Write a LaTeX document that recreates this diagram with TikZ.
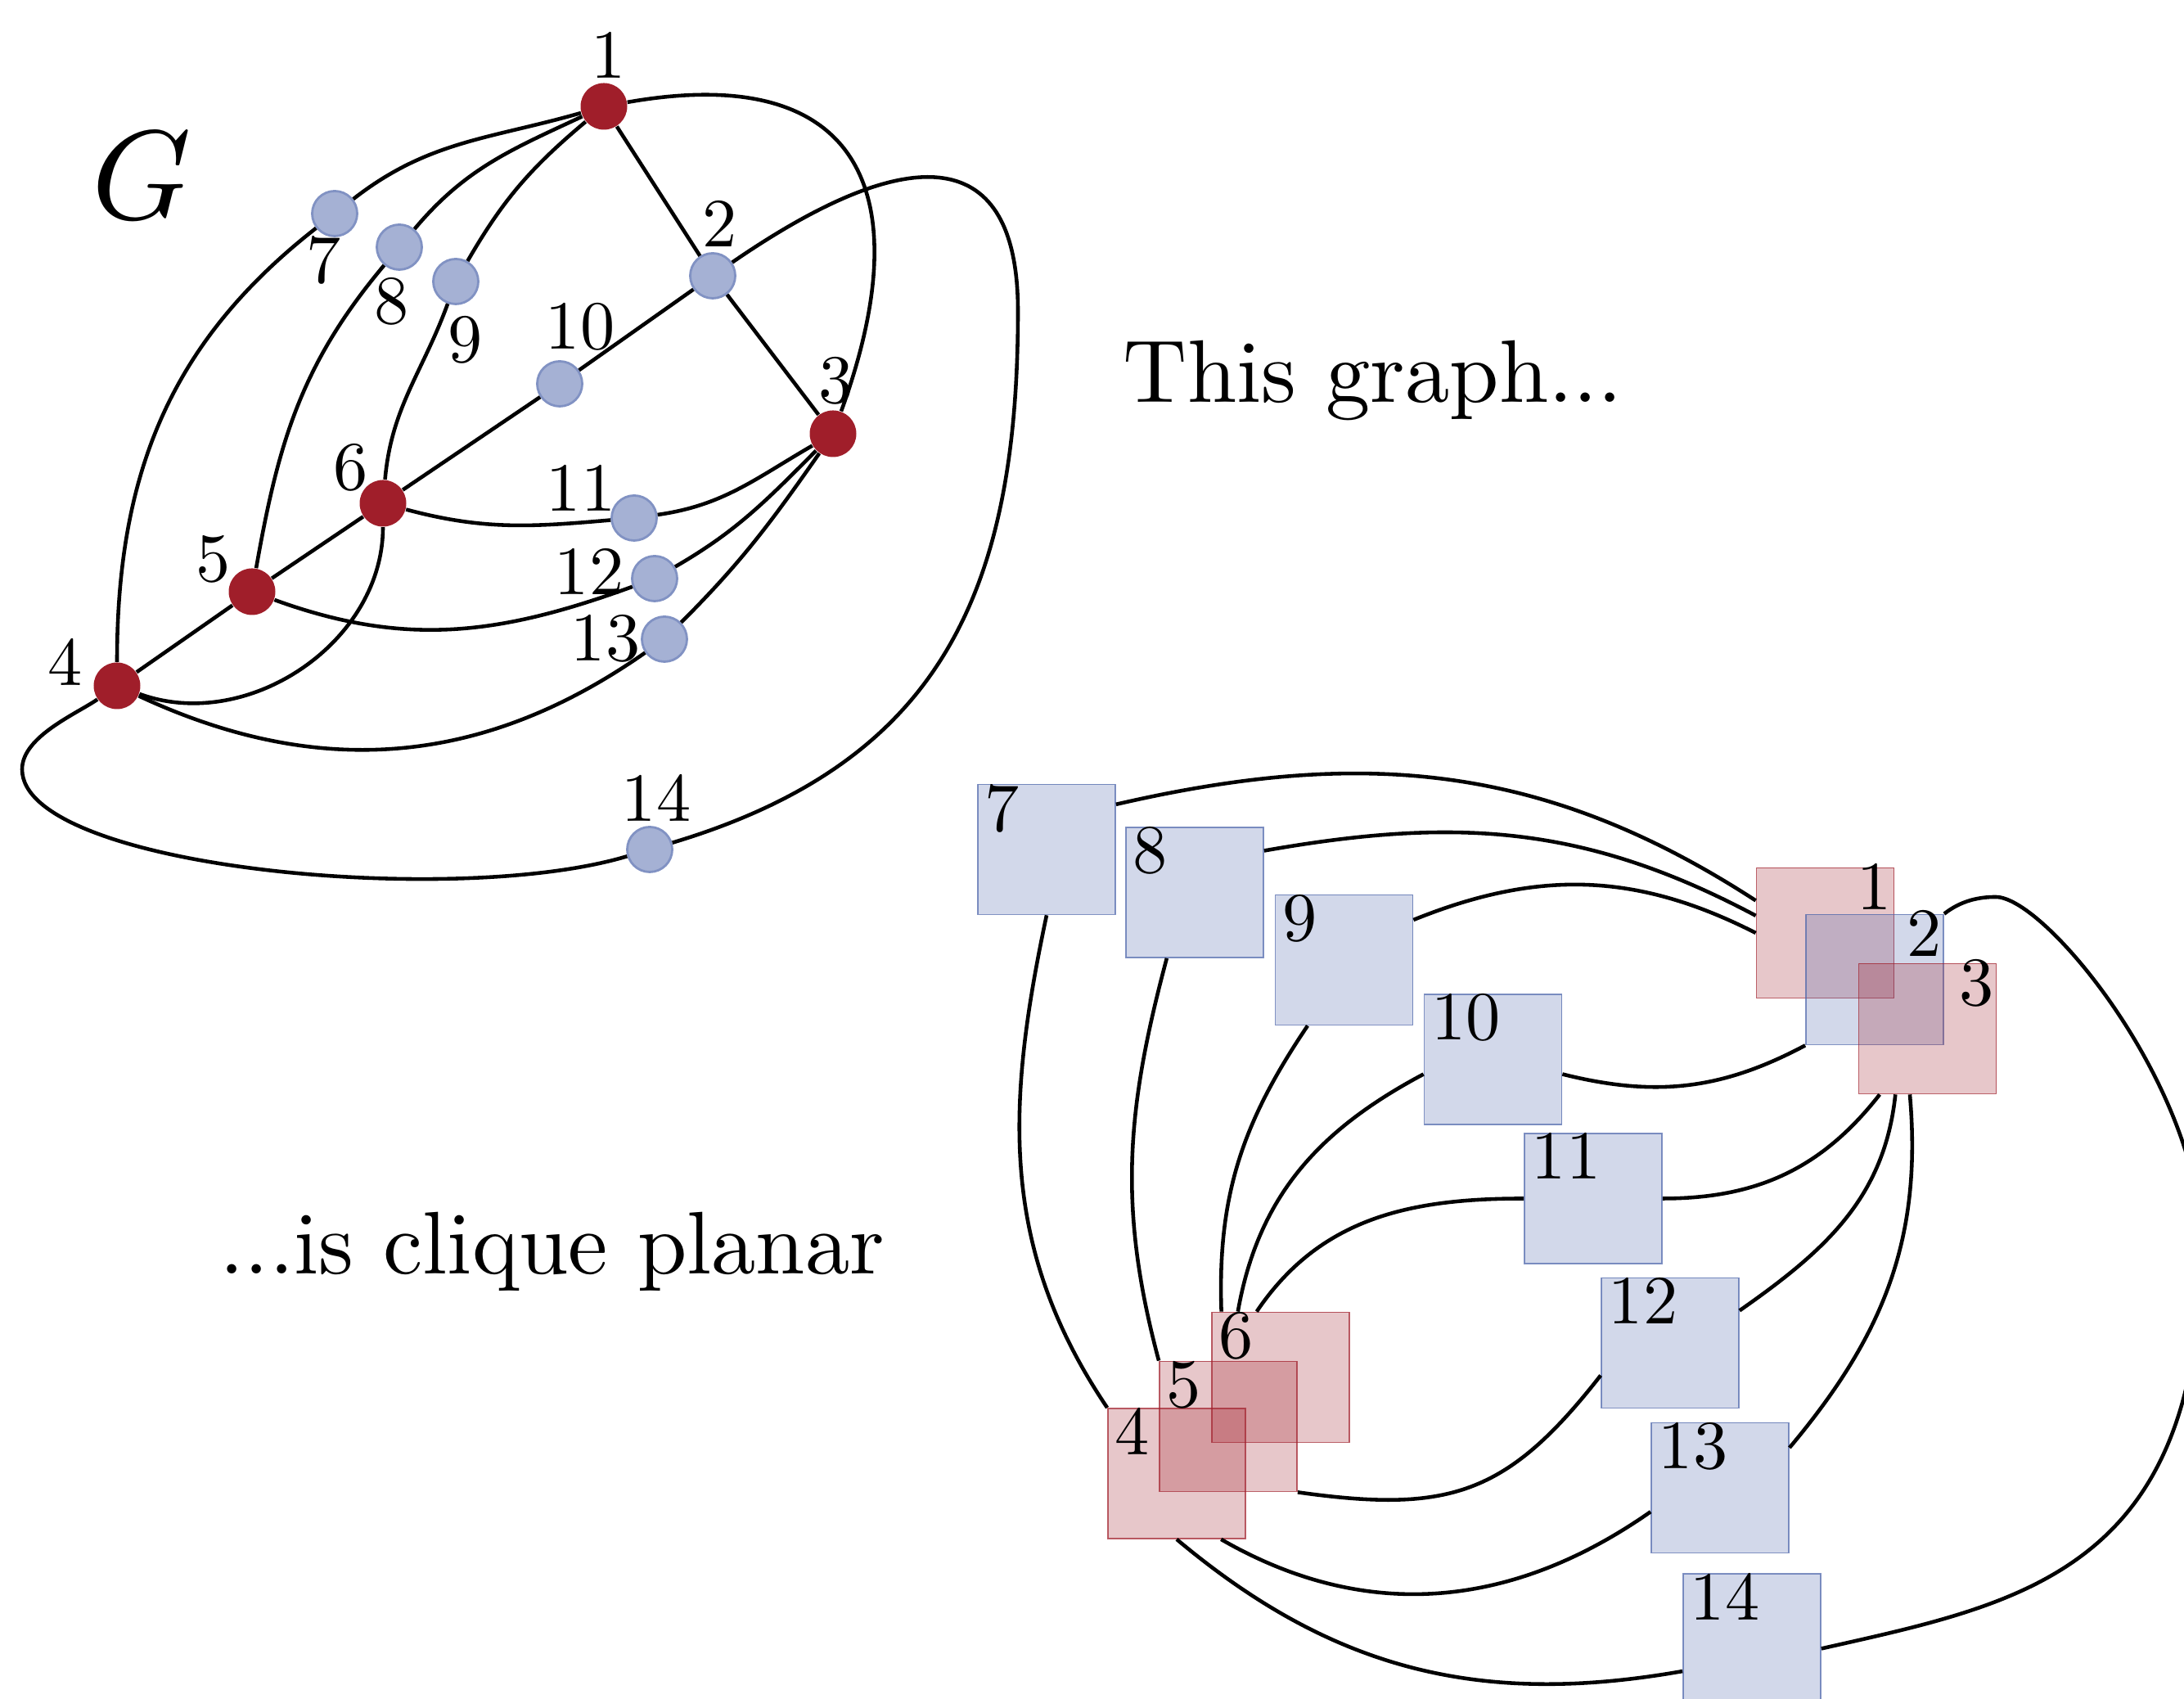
\documentclass[tikz,border=0pt]{standalone}
\usepackage{tikz}
\definecolor{vred}{RGB}{160,30,42}
\definecolor{vblue}{RGB}{75,100,170}
\newcommand{\lbltext}[1]{\scalebox{2.4}{#1}}

\begin{document}
\begin{tikzpicture}[
  redv/.style={circle, fill=vred, minimum size=0.57cm, inner sep=0pt},
  bluev/.style={circle, fill=vblue!50, draw=vblue!70, line width=0.8pt, minimum size=0.55cm, inner sep=0pt},
  redbox/.style={rectangle, fill=vred, fill opacity=0.25, draw=vred, draw opacity=0.7, line width=0.5pt, minimum width=1.68cm, minimum height=1.59cm, inner sep=0pt},
  bluebox/.style={rectangle, fill=vblue, fill opacity=0.25, draw=vblue, draw opacity=0.7, line width=0.5pt, minimum width=1.68cm, minimum height=1.59cm, inner sep=0pt},
  lbl/.style={inner sep=0pt},
  tl/.style={lbl, anchor=north west, xshift=0.09cm},
  tr/.style={lbl, anchor=north east, xshift=-0.03cm, yshift=0.05cm},
  link/.style={line width=1.3pt}
]
\useasboundingbox (0,0) rectangle (26.690,20.760);
\clip (0,0) rectangle (26.690,20.760);

\node[anchor=base west, inner sep=0pt] (gname) at (1.120,18.080) {\scalebox{4.4}{$G$}};
\node[anchor=base west, inner sep=0pt] (this) at (13.720,15.840) {\scalebox{3.09}{This graph...}};
\node[anchor=base west, inner sep=0pt] (isclq) at (2.680,5.190) {\scalebox{3.09}{...is clique planar}};

\node[redv] (v1) at (7.380,19.460) {};
\node[bluev] (v2) at (8.710,17.390) {};
\node[redv] (v3) at (10.180,15.460) {};
\node[redv] (v4) at (1.430,12.380) {};
\node[redv] (v5) at (3.080,13.530) {};
\node[redv] (v6) at (4.680,14.610) {};
\node[bluev] (v7) at (4.090,18.150) {};
\node[bluev] (v8) at (4.880,17.740) {};
\node[bluev] (v9) at (5.570,17.320) {};
\node[bluev] (v10) at (6.840,16.070) {};
\node[bluev] (v11) at (7.750,14.430) {};
\node[bluev] (v12) at (8.000,13.690) {};
\node[bluev] (v13) at (8.120,12.950) {};
\node[bluev] (v14) at (7.940,10.380) {};

\node[lbl] (l1) at (7.440,20.090) {\lbltext{1}};
\node[lbl] (l2) at (8.800,18.030) {\lbltext{2}};
\node[lbl] (l3) at (10.220,16.110) {\lbltext{3}};
\node[lbl] (l4) at (0.800,12.670) {\lbltext{4}};
\node[lbl] (l5) at (2.610,13.930) {\lbltext{5}};
\node[lbl] (l6) at (4.290,15.050) {\lbltext{6}};
\node[lbl] (l7) at (3.960,17.580) {\lbltext{7}};
\node[lbl] (l8) at (4.790,17.080) {\lbltext{8}};
\node[lbl] (l9) at (5.690,16.610) {\lbltext{9}};
\node[lbl] (l10) at (7.090,16.770) {\lbltext{10}};
\node[lbl] (l11) at (7.100,14.800) {\lbltext{11}};
\node[lbl] (l12) at (7.200,13.780) {\lbltext{12}};
\node[lbl] (l13) at (7.400,12.960) {\lbltext{13}};
\node[lbl] (l14) at (8.020,11.010) {\lbltext{14}};

\draw[link] (v1) -- (v2);
\draw[link] (v2) -- (v3);
\draw[link] (v4) -- (v5);
\draw[link] (v5) -- (v6);
\draw[link] (v6) -- (v10);
\draw[link] (v10) -- (v2);
\draw[link] (v1) to[out=196, in=38] (v7);
\draw[link] (v7) to[out=218, in=90] (v4);
\draw[link] (v1) to[out=205, in=50] (v8);
\draw[link] (v8) to[out=230, in=80] (v5);
\draw[link] (v1) to[out=220, in=60] (v9);
\draw[link] (v9) to[out=250, in=85] (v6);
\draw[link] (v1) to[out=10, in=70, looseness=1.6] (v3);
\draw[link] (v6) to[out=-15, in=185] (v11);
\draw[link] (v11) to[out=8, in=210] (v3);
\draw[link] (v5) to[out=-20, in=200] (v12);
\draw[link] (v12) to[out=30, in=225] (v3);
\draw[link] (v4) to[out=-25, in=215] (v13);
\draw[link] (v13) to[out=45, in=235] (v3);
\draw[link] (v6) to[out=270, in=-20] (v4);
\draw[link] (v2) .. controls (11.180,19.090) and (12.440,18.960) .. (12.440,16.960)
  .. controls (12.440,13.460) and (11.440,11.430) .. (v14)
  .. controls (5.540,9.660) and (0.270,10.160) .. (0.270,11.360)
  .. controls (0.270,11.760) and (0.940,12.040) .. (v4);

\node[redbox, label={[tr]north east:\lbltext{1}}] (b1) at (22.305,9.360) {};
\node[bluebox, label={[tr]north east:\lbltext{2}}] (b2) at (22.910,8.790) {};
\node[redbox, label={[tr]north east:\lbltext{3}}] (b3) at (23.555,8.190) {};
\node[redbox, label={[tl]north west:\lbltext{4}}] (b4) at (14.380,2.755) {};
\node[redbox, label={[tl]north west:\lbltext{5}}] (b5) at (15.010,3.330) {};
\node[redbox, label={[tl]north west:\lbltext{6}}] (b6) at (15.650,3.930) {};
\node[bluebox, label={[tl]north west:\lbltext{7}}] (b7) at (12.790,10.380) {};
\node[bluebox, label={[tl]north west:\lbltext{8}}] (b8) at (14.600,9.855) {};
\node[bluebox, label={[tl]north west:\lbltext{9}}] (b9) at (16.425,9.030) {};
\node[bluebox, label={[tl]north west:\lbltext{10}}] (b10) at (18.245,7.815) {};
\node[bluebox, label={[tl]north west:\lbltext{11}}] (b11) at (19.470,6.115) {};
\node[bluebox, label={[tl]north west:\lbltext{12}}] (b12) at (20.410,4.350) {};
\node[bluebox, label={[tl]north west:\lbltext{13}}] (b13) at (21.020,2.580) {};
\node[bluebox, label={[tl]north west:\lbltext{14}}] (b14) at (21.410,0.735) {};

\draw[link] (b7.33) to[out=13, in=147] (b1.155);
\draw[link] (b8.31) to[out=10, in=152] (b1.166);
\draw[link] (b9.30) to[out=22, in=153] (b1.180);
\draw[link] (b10.348) to[out=-14, in=208] (b2.south west);
\draw[link] (b11.east) to[out=0, in=232] (b3.234);
\draw[link] (b12.25) to[out=35, in=264] (b3.244);
\draw[link] (b13.30) to[out=50, in=275] (b3.255);
\draw[link] (b7.south) to[out=258, in=124] (b4.north west);
\draw[link] (b8.247) to[out=255, in=105] (b5.north west);
\draw[link] (b9.241) to[out=236, in=92] (b6.132);
\draw[link] (b10.192) to[out=208, in=80] (b6.123);
\draw[link] (b11.west) to[out=180, in=56] (b6.110);
\draw[link] (b12.205) to[out=232, in=-8, looseness=1.2] (b5.south east);
\draw[link] (b13.199) to[out=215, in=-30] (b4.304);
\draw[link] (b14.205) to[out=190, in=-40] (b4.south);
\draw[link] (b2.north east) .. controls (23.960,9.750) and (24.170,9.800) .. (24.390,9.800)
  .. controls (25.000,9.800) and (26.900,7.460) .. (26.900,5.560)
  .. controls (26.900,1.560) and (24.710,1.170) .. (b14.352);
\end{tikzpicture}
\end{document}
